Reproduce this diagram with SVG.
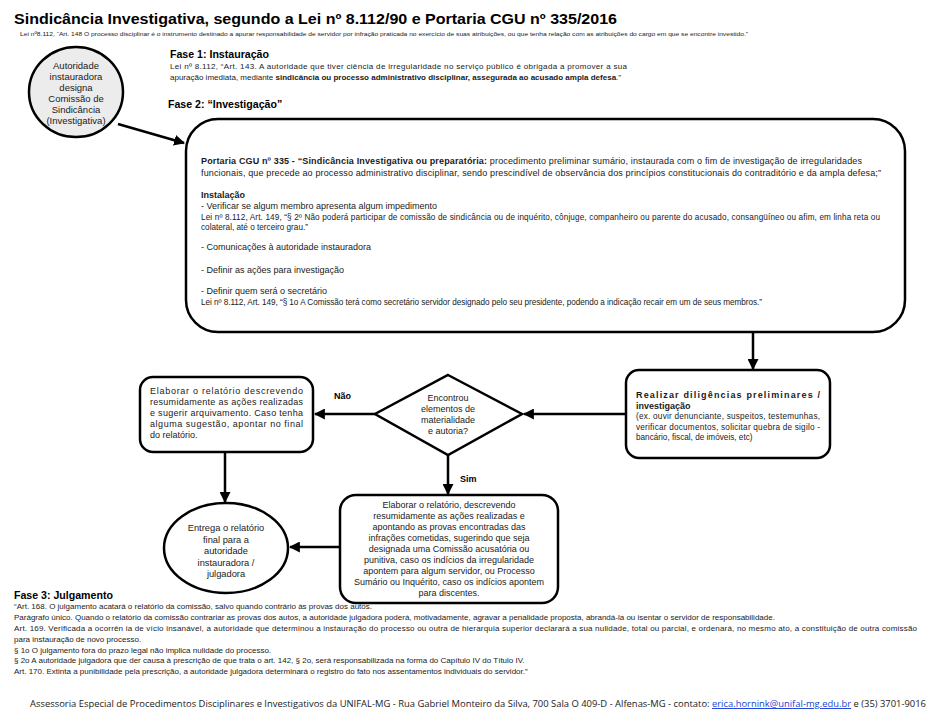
<svg xmlns="http://www.w3.org/2000/svg" width="929" height="722" viewBox="0 0 929 722">
<style>
text{font-family:"Liberation Sans",Arial,sans-serif;fill:#1a1a1a}
.b{font-weight:bold}
.h{font-size:10.6px;font-weight:bold;fill:#000}
.node{fill:#fff;stroke:#000;stroke-width:2.5}
.gray{fill:#ececec}
.c{text-anchor:middle}
.s8{font-size:8px}
.s82{font-size:8.2px}
.s85{font-size:8.5px}
.s9{font-size:9px}
.conn{stroke:#000;stroke-width:2.5;fill:none;marker-end:url(#ah)}
.lbl{font-size:9px;font-weight:bold;fill:#000}
</style>
<defs>
<marker id="ah" viewBox="0 0 10 10" refX="9" refY="5" markerWidth="4.4" markerHeight="4.4" orient="auto" markerUnits="strokeWidth">
<path d="M0,0 L10,5 L0,10 z" fill="#000"/>
</marker>
</defs>
<rect width="929" height="722" fill="#fff"/>

<g id="header">
<text x="14" y="24" class="b" style="font-size:14px;fill:#000" textLength="603" lengthAdjust="spacingAndGlyphs">Sindicância Investigativa, segundo a Lei nº 8.112/90 e Portaria CGU nº 335/2016</text>
<text x="20" y="36" style="font-size:5.5px" textLength="728" lengthAdjust="spacingAndGlyphs">Lei nº8.112, “Art. 148 O processo disciplinar é o instrumento destinado a apurar responsabilidade de servidor por infração praticada no exercício de suas atribuições, ou que tenha relação com as atribuições do cargo em que se encontre investido.”</text>
</g>

<g id="fase1">
<text x="170" y="58" class="h">Fase 1: Instauração</text>
<text x="170" y="69" class="s8" textLength="457" lengthAdjust="spacing">Lei nº 8.112, “Art. 143.  A autoridade que tiver ciência de irregularidade no serviço público é obrigada a promover a sua</text>
<text x="170" y="80" class="s8" textLength="451" lengthAdjust="spacing">apuração imediata, mediante <tspan class="b">sindicância ou processo administrativo disciplinar, assegurada ao acusado ampla defesa</tspan>.”</text>
</g>

<g id="fase2-title">
<text x="168" y="108" class="h">Fase 2: “Investigação”</text>
</g>

<g id="n-autoridade">
<ellipse cx="76" cy="92" rx="47" ry="45" class="node gray"/>
<text class="c" style="font-size:9.5px" x="76" y="69">Autoridade</text>
<text class="c" style="font-size:9.5px" x="76" y="80">instauradora</text>
<text class="c" style="font-size:9.5px" x="76" y="91">designa</text>
<text class="c" style="font-size:9.5px" x="76" y="102">Comissão de</text>
<text class="c" style="font-size:9.5px" x="76" y="113">Sindicância</text>
<text class="c" style="font-size:9.5px" x="76" y="124">(Investigativa)</text>
</g>

<g id="n-investigacao">
<rect x="186" y="119" width="719" height="213" rx="32" class="node"/>
<text x="201" y="164" class="s9" textLength="661" lengthAdjust="spacing"><tspan class="b">Portaria CGU nº 335 - “Sindicância Investigativa ou preparatória:</tspan> procedimento preliminar sumário, instaurada com o fim de investigação de irregularidades</text>
<text x="201" y="176" class="s9" textLength="680" lengthAdjust="spacing">funcionais, que precede ao processo administrativo disciplinar, sendo prescindível de observância dos princípios constitucionais do contraditório e da ampla defesa;”</text>
<text x="201" y="198" class="s9 b">Instalação</text>
<text x="201" y="209" class="s9">- Verificar se algum membro apresenta algum impedimento</text>
<text x="201" y="219.5" class="s82" textLength="679" lengthAdjust="spacing">Lei nº 8.112, Art. 149,  “§ 2º  Não poderá participar de comissão de sindicância ou de inquérito, cônjuge, companheiro ou parente do acusado, consangüíneo ou afim, em linha reta ou</text>
<text x="201" y="230" class="s82">colateral, até o terceiro grau.”</text>
<text x="201" y="250" class="s9">- Comunicações à autoridade instauradora</text>
<text x="201" y="273" class="s9">- Definir as ações para investigação</text>
<text x="201" y="294" class="s9">- Definir quem será o secretário</text>
<text x="201" y="304.5" class="s82" textLength="561" lengthAdjust="spacing">Lei nº 8.112, Art. 149, “§ 1o  A Comissão terá como secretário servidor designado pelo seu presidente, podendo a indicação recair em um de seus membros.”</text>
</g>

<g id="n-diligencias">
<rect x="626" y="370" width="204" height="88" rx="13" class="node"/>
<text x="636" y="398" class="s9 b" textLength="184" lengthAdjust="spacing">Realizar diligências preliminares /</text>
<text x="636" y="408.5" class="s9 b">investigação</text>
<text x="636" y="419" class="s82" textLength="184" lengthAdjust="spacing">(ex. ouvir denunciante, suspeitos, testemunhas,</text>
<text x="636" y="429.5" class="s82" textLength="184" lengthAdjust="spacing">verificar documentos, solicitar quebra de sigilo -</text>
<text x="636" y="440" class="s82">bancário, fiscal, de imóveis, etc)</text>
</g>

<g id="n-decisao">
<polygon points="448,375 522,414 448,455 375,414" class="node"/>
<text class="c s9" x="448" y="401">Encontrou</text>
<text class="c s9" x="448" y="412">elementos de</text>
<text class="c s9" x="448" y="423">materialidade</text>
<text class="c s9" x="448" y="434">e autoria?</text>
</g>

<g id="n-arquivamento">
<rect x="140" y="377" width="173" height="75" rx="13" class="node"/>
<text x="150" y="394" class="s9" textLength="153" lengthAdjust="spacing">Elaborar o relatório descrevendo</text>
<text x="150" y="405" class="s9" textLength="153" lengthAdjust="spacing">resumidamente as ações realizadas</text>
<text x="150" y="416" class="s9" textLength="153" lengthAdjust="spacing">e sugerir arquivamento. Caso tenha</text>
<text x="150" y="427" class="s9" textLength="153" lengthAdjust="spacing">alguma sugestão, apontar no final</text>
<text x="150" y="438" class="s9">do relatório.</text>
</g>

<g id="n-relatorio-acusatorio">
<rect x="340" y="495" width="218" height="108" rx="16" class="node"/>
<text class="c s9" x="449" y="508">Elaborar o relatório, descrevendo</text>
<text class="c s9" x="449" y="519">resumidamente as ações realizadas e</text>
<text class="c s9" x="449" y="530">apontando as provas encontradas das</text>
<text class="c s9" x="449" y="541">infrações cometidas, sugerindo que seja</text>
<text class="c s9" x="449" y="552">designada uma Comissão acusatória ou</text>
<text class="c s9" x="449" y="563">punitiva, caso os indícios da irregularidade</text>
<text class="c s9" x="449" y="574">apontem para algum servidor, ou Processo</text>
<text class="c s9" x="449" y="585">Sumário ou Inquérito, caso os indícios apontem</text>
<text class="c s9" x="449" y="596">para discentes.</text>
</g>

<g id="n-entrega">
<ellipse cx="226" cy="548" rx="62" ry="45" class="node"/>
<text class="c" style="font-size:9.3px" x="226" y="531">Entrega o relatório</text>
<text class="c" style="font-size:9.3px" x="226" y="542.5">final para a</text>
<text class="c" style="font-size:9.3px" x="226" y="554">autoridade</text>
<text class="c" style="font-size:9.3px" x="226" y="565.5">instauradora /</text>
<text class="c" style="font-size:9.3px" x="226" y="577">julgadora</text>
</g>

<g id="connectors">
<line x1="118" y1="124" x2="184" y2="143" class="conn"/>
<line x1="753" y1="332" x2="753" y2="369" class="conn"/>
<line x1="626" y1="414" x2="524" y2="414" class="conn"/>
<line x1="375" y1="414" x2="315" y2="414" class="conn"/>
<text x="334" y="399" class="lbl">Não</text>
<line x1="448" y1="455" x2="448" y2="494" class="conn"/>
<text x="460" y="482" class="lbl">Sim</text>
<line x1="225" y1="452" x2="225" y2="502" class="conn"/>
<line x1="340" y1="547" x2="290" y2="547" class="conn"/>
</g>

<g id="fase3">
<text x="14" y="599" class="h">Fase 3: Julgamento</text>
<text x="14" y="609" class="s8">“Art. 168.  O julgamento acatará o relatório da comissão, salvo quando contrário às provas dos autos.</text>
<text x="14" y="620" class="s8">Parágrafo único.  Quando o relatório da comissão contrariar as provas dos autos, a autoridade julgadora poderá, motivadamente, agravar a penalidade proposta, abrandá-la ou isentar o servidor de responsabilidade.</text>
<text x="14" y="631" class="s8" textLength="903" lengthAdjust="spacing">Art. 169. Verificada a ocorrên ia de vício insanável, a autoridade que determinou a instauração do processo ou outra de hierarquia superior declarará a sua nulidade, total ou parcial, e ordenará, no mesmo ato, a constituição de outra comissão</text>
<text x="14" y="642" class="s8">para instauração de novo processo.</text>
<text x="14" y="652.5" class="s8">§ 1o  O julgamento fora do prazo legal não implica nulidade do processo.</text>
<text x="14" y="663" class="s8">§ 2o  A autoridade julgadora que der causa à prescrição de que trata o art. 142, § 2o, será responsabilizada na forma do Capítulo IV do Título IV.</text>
<text x="14" y="673.5" class="s8">Art. 170.  Extinta a punibilidade pela prescrição, a autoridade julgadora determinará o registro do fato nos assentamentos individuais do servidor.”</text>
</g>

<g id="footer">
<text x="30" y="707" style="font-family:'Open Sans','Liberation Sans',sans-serif;font-size:9.5px" textLength="896" lengthAdjust="spacingAndGlyphs">Assessoria Especial de Procedimentos Disciplinares e Investigativos da UNIFAL-MG - Rua Gabriel Monteiro da Silva, 700 Sala O 409-D - Alfenas-MG  - contato: <tspan style="fill:#1a3fd6;text-decoration:underline">erica.hornink@unifal-mg.edu.br</tspan> e (35) 3701-9016</text>
</g>
</svg>
